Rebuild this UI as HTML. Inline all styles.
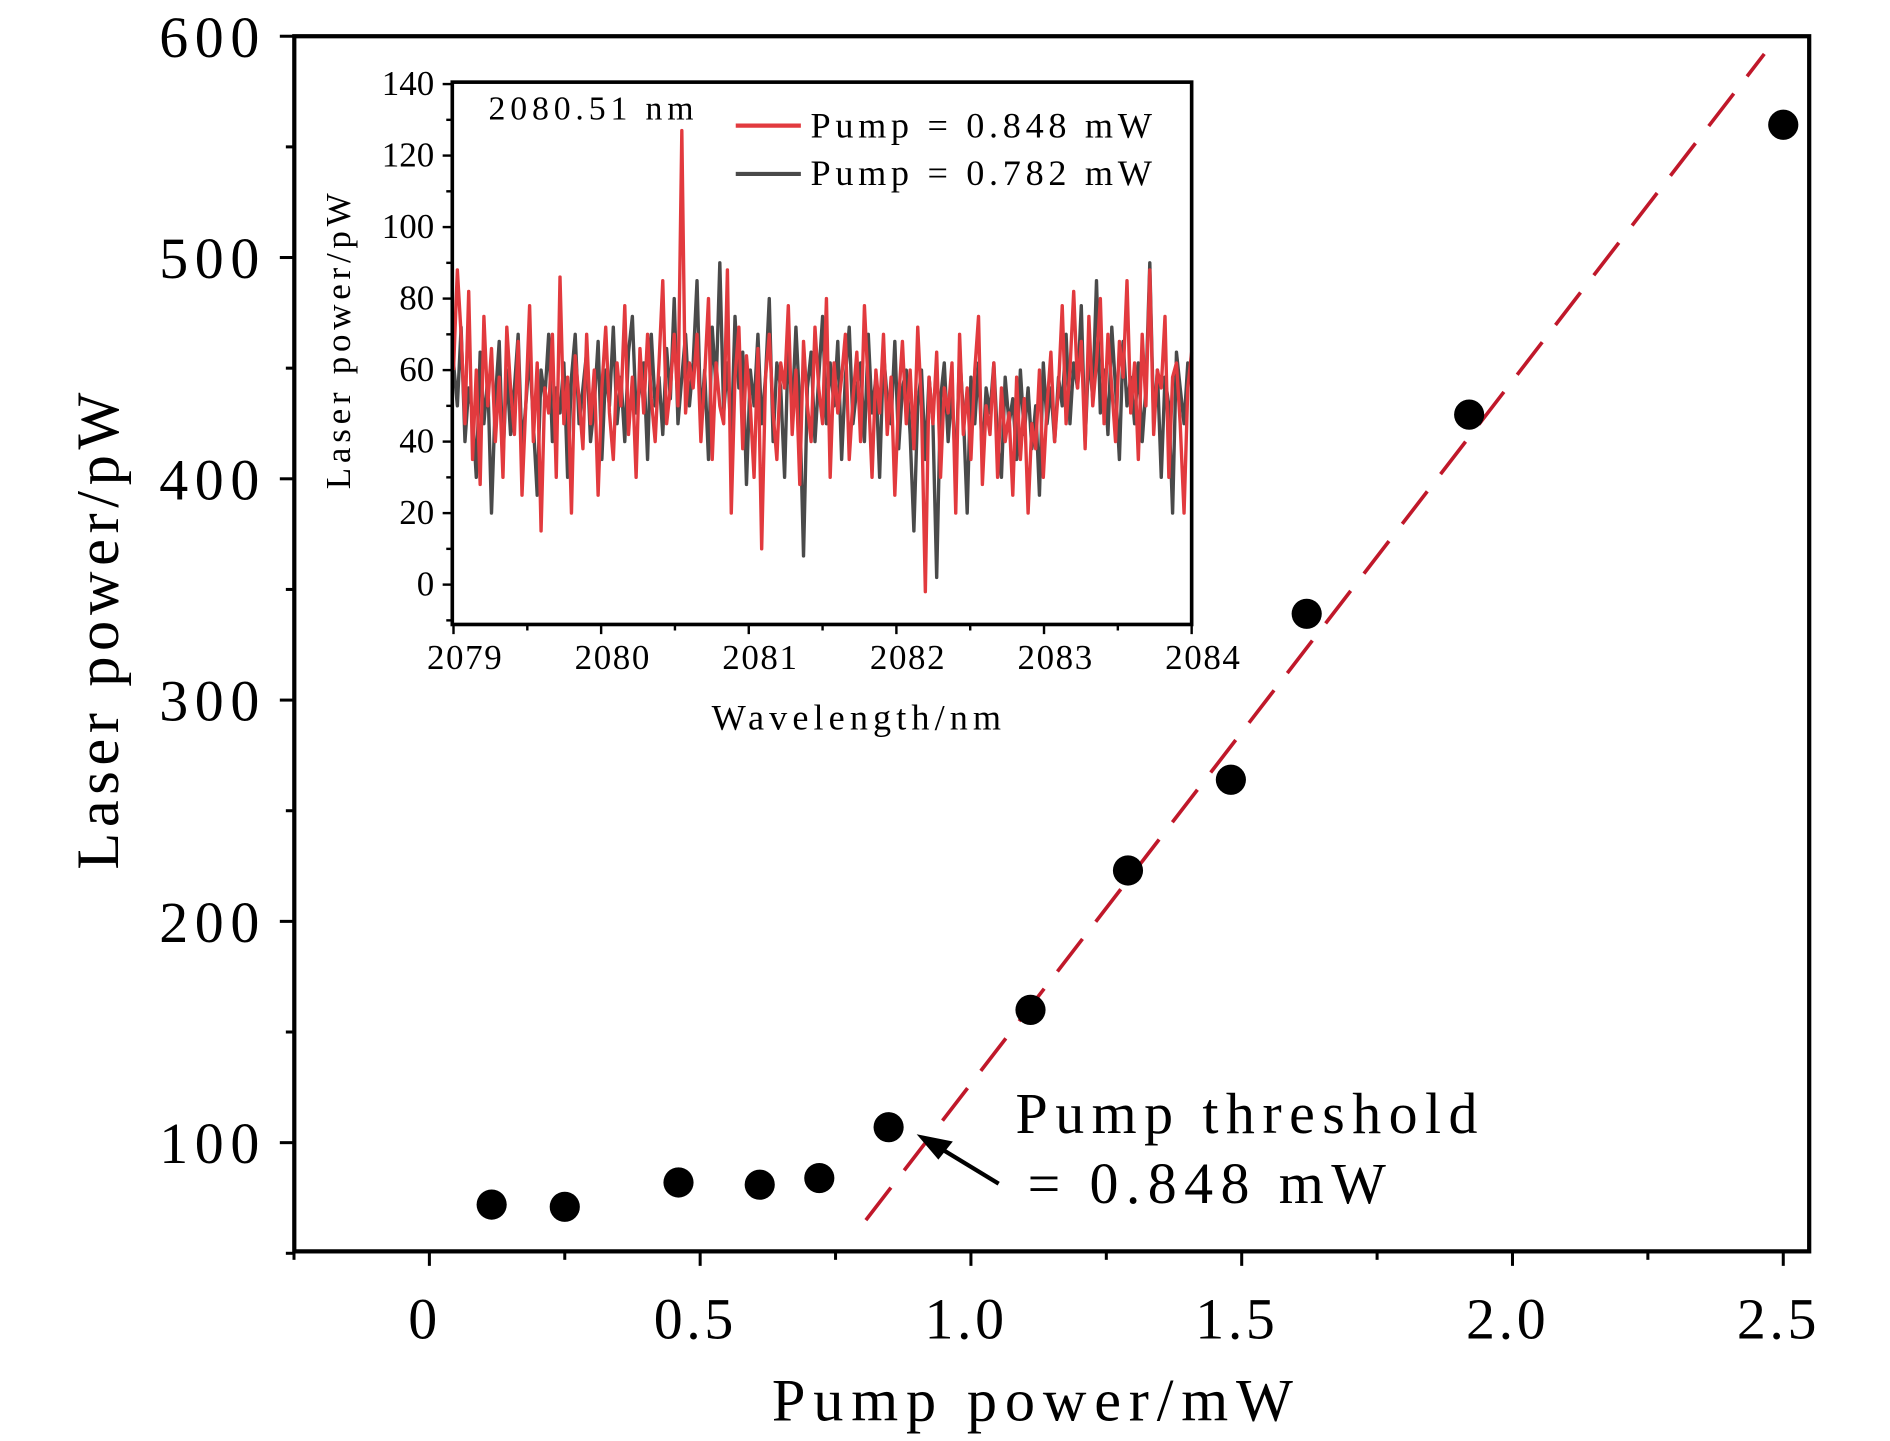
<!DOCTYPE html>
<html><head><meta charset="utf-8"><style>
html,body{margin:0;padding:0;background:#fff;}
svg{display:block;font-family:"Liberation Serif",serif;}
</style></head><body>
<svg id="chart" width="1890" height="1441" viewBox="0 0 1567 1193" preserveAspectRatio="none" xmlns="http://www.w3.org/2000/svg">
<g id="main"></g>
<g id="inset"></g>
</svg>
<script>
// ---- main chart data ----
const pumpPower = [0.115,0.25,0.46,0.61,0.72,0.848,1.11,1.29,1.48,1.62,1.92,2.5];
const laserPower = [72,71,82,81,84,107,160,223,264,339,429,560];
const fitX = [0.806,2.465];
const fitY = [65,592];
const xTicks = [0,0.5,1.0,1.5,2.0,2.5];
const xTickLabels = ["0","0.5","1.0","1.5","2.0","2.5"];
const yTicks = [100,200,300,400,500,600];
const yTickLabels = ["100","200","300","400","500","600"];
// ---- inset data ----
const insetTicksX = [2079,2080,2081,2082,2083,2084];
const insetTicksY = [0,20,40,60,80,100,120,140];
const redSeries = [60,88,70,45,82,35,60,28,75,50,66,40,58,30,72,55,42,68,25,50,
78,40,62,15,55,48,70,30,86,45,58,20,64,52,38,70,45,60,25,55,
72,48,35,62,50,78,42,58,30,66,48,70,52,40,62,85,45,55,70,50,
127,48,62,55,70,40,58,80,35,62,50,45,88,20,58,72,38,64,50,30,
66,10,58,70,48,35,62,55,78,42,60,28,68,50,40,72,55,45,80,30,
62,48,58,70,35,52,65,40,78,55,30,60,48,70,42,58,25,52,68,45,
60,38,72,50,-2,58,45,65,30,55,48,62,20,70,42,55,35,60,75,28,
50,42,62,30,55,40,48,25,58,35,52,20,45,38,60,30,50,65,40,55,
78,45,60,82,55,68,38,75,50,62,80,45,70,55,40,68,58,85,48,62,
35,70,50,88,42,60,55,75,30,58,62,45,20,55,65];
const greySeries = [62,50,72,40,55,48,30,65,45,58,20,52,68,35,60,42,55,70,38,50,
65,45,25,60,52,70,40,55,48,62,30,58,70,45,55,65,40,50,68,35,
60,50,72,45,58,40,65,75,48,55,62,35,70,50,58,42,66,52,80,45,
58,70,50,62,85,45,60,35,72,55,90,48,62,40,75,55,65,28,60,50,
70,45,58,80,40,62,55,30,68,48,72,50,8,55,65,40,58,75,45,62,
50,68,35,58,72,45,55,62,40,70,48,58,30,65,52,45,68,38,55,60,
42,15,50,60,35,58,45,2,52,62,40,55,30,65,48,20,58,45,62,35,
55,48,62,40,30,58,45,52,35,60,42,55,38,50,25,62,45,55,40,58,
50,70,45,62,55,78,40,65,52,85,48,60,42,72,55,35,68,50,58,45,
62,40,55,90,45,60,30,58,50,20,65,55,45,62,58];

const NS="http://www.w3.org/2000/svg";
function mk(parent,tag,attrs,text){const e=document.createElementNS(NS,tag);for(const k in attrs)e.setAttribute(k,attrs[k]);if(text!==undefined)e.textContent=text;parent.appendChild(e);return e;}

// main axes
const L=244,R=1500,T=30,B=1036;
const xS=v=>356+v*449;
const yS=v=>946-(v-100)*1.832;
const main=document.getElementById('main');
let box=mk(main,'rect',{x:L,y:T,width:R-L,height:B-T,fill:'none',stroke:'#000','stroke-width':3.5});


for(let v=-0.25;v<=2.51;v+=0.25){const maj=Math.abs(v*2-Math.round(v*2))<1e-6;
  mk(main,'line',{x1:xS(v),x2:xS(v),y1:B,y2:B+(maj?12:7),stroke:'#000','stroke-width':2.5});}
for(let v=50;v<=600;v+=50){const maj=v%100===0;
  mk(main,'line',{x1:L,x2:L-(maj?12:7),y1:yS(v),y2:yS(v),stroke:'#000','stroke-width':2.5});}
xTicks.forEach((v,i)=>{const t=mk(main,'text',{x:xS(v)-4,y:1108,'font-size':48,'text-anchor':'middle','letter-spacing':3},xTickLabels[i]);
  
  });
yTicks.forEach((v,i)=>{const t=mk(main,'text',{x:215,y:yS(v)+17,'font-size':48,'text-anchor':'end','textLength':83,'lengthAdjust':'spacing'},yTickLabels[i]);
  
  });
let xt=mk(main,'text',{x:640,y:1176,'font-size':50,'textLength':432,'lengthAdjust':'spacing'},'Pump power/mW');


let yt=mk(main,'text',{x:0,y:0,'font-size':50,'textLength':395,'lengthAdjust':'spacing',transform:'translate(98,720) rotate(-90)'},'Laser power/pW');


let fit=mk(main,'line',{x1:xS(fitX[0]),y1:yS(fitY[0]),x2:xS(fitX[1]),y2:yS(fitY[1]),stroke:'#c0182a','stroke-width':3,'stroke-dasharray':'34,18'});


pumpPower.forEach((v,i)=>{const c=mk(main,'circle',{cx:xS(v),cy:yS(laserPower[i]),r:12.5,fill:'#000'});
  
  });
let ar=mk(main,'line',{x1:828,y1:980,x2:772,y2:946,stroke:'#000','stroke-width':3.5});


mk(main,'polygon',{points:'760,939 790,945 778,960',fill:'#000'});
let a1=mk(main,'text',{x:842,y:938,'font-size':48,'textLength':383,'lengthAdjust':'spacing'},'Pump threshold');


let a2=mk(main,'text',{x:852,y:996,'font-size':48,'textLength':297,'lengthAdjust':'spacing'},'= 0.848 mW');



// inset
const iL=375,iR=988,iT=68,iB=517;
const ixS=v=>376+(v-2079)*122.4;
const iyS=v=>484-v*2.96;
const inset=document.getElementById('inset');
for(let v=2079;v<=2084.01;v+=0.5){const maj=Math.abs(v-Math.round(v))<1e-6;
  mk(inset,'line',{x1:ixS(v),x2:ixS(v),y1:iB,y2:iB+(maj?8:5),stroke:'#000','stroke-width':2});}
for(let v=-10;v<=145;v+=10){const y=iyS(v);if(y<iT||y>iB)continue;const maj=v%20===0;
  mk(inset,'line',{x1:iL,x2:iL-(maj?8:5),y1:y,y2:y,stroke:'#000','stroke-width':2});}
insetTicksX.forEach(v=>{const t=mk(inset,'text',{x:ixS(v)-22,y:554,'font-size':29,'textLength':62,'lengthAdjust':'spacing'},String(v));
  
  });
insetTicksY.forEach(v=>{const t=mk(inset,'text',{x:360,y:iyS(v)+9,'font-size':29,'text-anchor':'end'},String(v));
  
  });
let ixt=mk(inset,'text',{x:590,y:604,'font-size':30,'textLength':240,'lengthAdjust':'spacing'},'Wavelength/nm');


let iyt=mk(inset,'text',{x:0,y:0,'font-size':29,'textLength':245,'lengthAdjust':'spacing',transform:'translate(290,405) rotate(-90)'},'Laser power/pW');


function series(arr,color,name){const n=arr.length;const pts=arr.map((v,i)=>ixS(2079+5*i/(n-1)).toFixed(1)+','+iyS(v).toFixed(1)).join(' ');
  const p=mk(inset,'polyline',{points:pts,fill:'none',stroke:color,'stroke-width':2.8,'stroke-linejoin':'round'});
  
  }
series(greySeries,'#4a4a4a','series-pump-0782');
series(redSeries,'#e23a3e','series-pump-0848');
let ibox=mk(inset,'rect',{x:iL,y:iT,width:iR-iL,height:iB-iT,fill:'none',stroke:'#000','stroke-width':3});


let pk=mk(inset,'text',{x:405,y:99,'font-size':28,'textLength':170,'lengthAdjust':'spacing'},'2080.51 nm');


mk(inset,'line',{x1:610,x2:664,y1:104,y2:104,stroke:'#e23a3e','stroke-width':3.5});
let l1=mk(inset,'text',{x:672,y:114,'font-size':30,'textLength':283,'lengthAdjust':'spacing'},'Pump = 0.848 mW');


mk(inset,'line',{x1:610,x2:664,y1:144,y2:144,stroke:'#4a4a4a','stroke-width':3.5});
let l2=mk(inset,'text',{x:672,y:153,'font-size':30,'textLength':283,'lengthAdjust':'spacing'},'Pump = 0.782 mW');


</script>
</body></html>
